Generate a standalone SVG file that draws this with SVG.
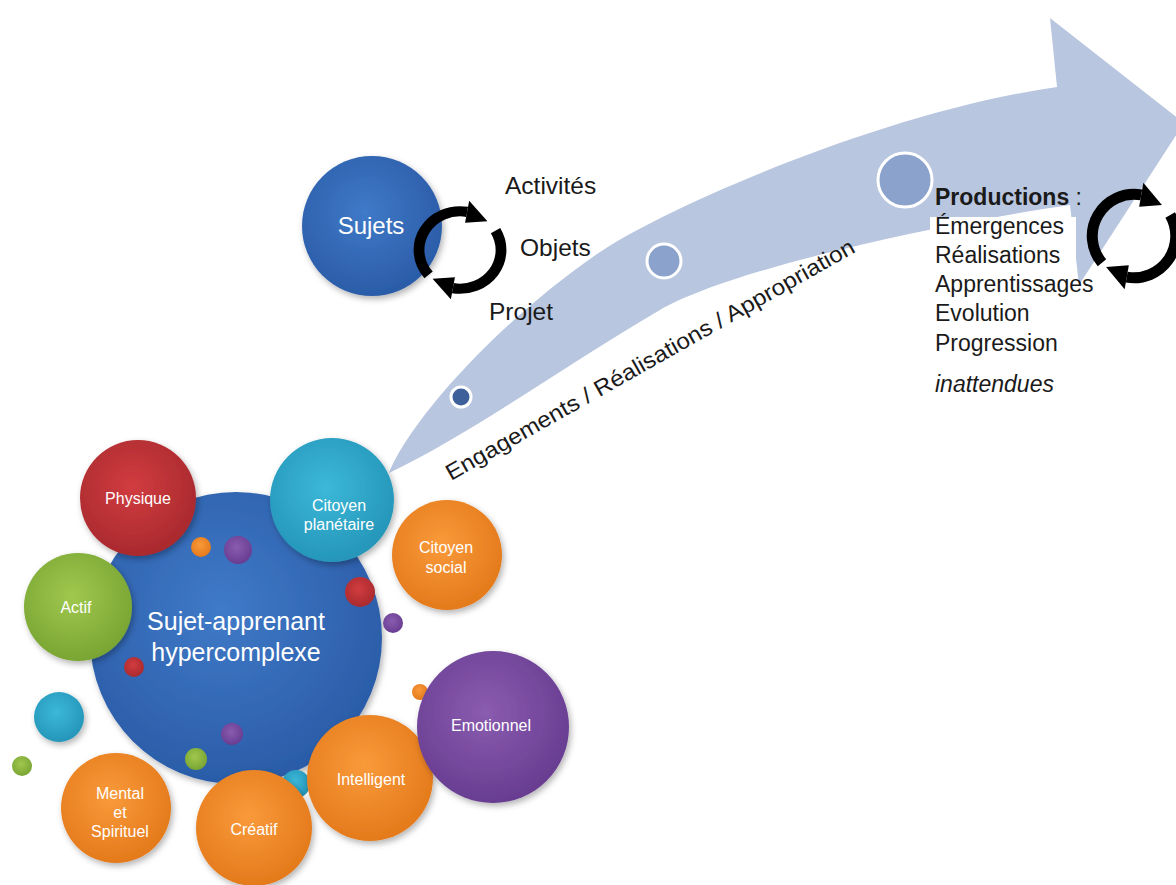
<svg xmlns="http://www.w3.org/2000/svg" width="1176" height="885" viewBox="0 0 1176 885">
<style>
.lbl{font-family:"Liberation Sans",Arial,sans-serif;fill:#fff;text-anchor:middle;font-size:16px}
.big{font-family:"Liberation Sans",Arial,sans-serif;fill:#fff;text-anchor:middle;font-size:25px}
.txt{font-family:"Liberation Sans",Arial,sans-serif;fill:#1a1a1a;font-size:23px}
.dot{stroke:#fff;stroke-width:3}
</style>
<defs>
<filter id="sh" x="-20%" y="-20%" width="150%" height="150%">
<feDropShadow dx="2" dy="3" stdDeviation="3" flood-color="#000" flood-opacity="0.3"/>
</filter>
<radialGradient id="gBlue" cx="45%" cy="40%" r="60%"><stop offset="0" stop-color="#3f7ac8"/><stop offset="1" stop-color="#2b5ca8"/></radialGradient>
<radialGradient id="gRed" cx="45%" cy="40%" r="60%"><stop offset="0" stop-color="#d13c40"/><stop offset="1" stop-color="#a92a2e"/></radialGradient>
<radialGradient id="gTeal" cx="45%" cy="40%" r="60%"><stop offset="0" stop-color="#3cb8d8"/><stop offset="1" stop-color="#2596b9"/></radialGradient>
<radialGradient id="gOrange" cx="45%" cy="40%" r="60%"><stop offset="0" stop-color="#f99a3a"/><stop offset="1" stop-color="#e47a1c"/></radialGradient>
<radialGradient id="gGreen" cx="45%" cy="40%" r="60%"><stop offset="0" stop-color="#a0c84e"/><stop offset="1" stop-color="#79a533"/></radialGradient>
<radialGradient id="gPurple" cx="45%" cy="40%" r="60%"><stop offset="0" stop-color="#8a5cb0"/><stop offset="1" stop-color="#683d91"/></radialGradient>
<g id="cycle">
<path d="M -29.1 24.4 A 38 38 0 0 1 6.6 -37.4" fill="none" stroke="#000" stroke-width="10"/>
<polygon points="4.7,-26.6 8.5,-48.3 25.4,-28.2" fill="#000"/>
<path d="M 32.9 -19 A 38 38 0 0 1 -6.6 37.4" fill="none" stroke="#000" stroke-width="10"/>
<polygon points="-4.7,26.6 -8.5,48.3 -25.4,28.2" fill="#000"/>
</g>
</defs>
<rect width="1176" height="885" fill="#fff"/>

<g id="connectors">
<path id="big-arrow" d="M 389 473 C 410 420, 500 320, 600 252 C 660 211, 880 112, 1057 87 L 1050 18 L 1184 123 L 1079 285 L 1070 205 C 900 230, 720 275, 660 310 C 570 362, 470 435, 389 473 Z" fill="#b9c6df"/>
<circle class="dot" cx="461" cy="397" r="10" fill="#3d609a"/>
<circle class="dot" cx="664" cy="261" r="17" fill="#8aa2cc"/>
<circle class="dot" cx="905" cy="180" r="27" fill="#8aa2cc"/>
<text class="txt" style="font-size:22.5px" textLength="466" lengthAdjust="spacingAndGlyphs" transform="translate(451 481) rotate(-29.5)">Engagements / Réalisations / Appropriation</text>
</g>

<g id="sujets">
<circle cx="372" cy="226" r="70" fill="url(#gBlue)" filter="url(#sh)"/>
<text class="big" x="371" y="234" style="font-size:24px">Sujets</text>
</g>
<g id="cycle-left">
<use href="#cycle" transform="translate(460 250) scale(1.08 1.02)"/>
<text class="txt" x="505" y="194" style="font-size:24.5px">Activités</text>
<text class="txt" x="520" y="256" style="font-size:24.5px">Objets</text>
<text class="txt" x="489" y="320" style="font-size:24.5px">Projet</text>
</g>

<g id="productions">
<rect x="930" y="217" width="146" height="185" fill="#fff"/>
<text class="txt" x="935" y="205"><tspan font-weight="bold">Productions</tspan> :</text>
<text class="txt" x="935" y="234">Émergences</text>
<text class="txt" x="935" y="263">Réalisations</text>
<text class="txt" x="935" y="292">Apprentissages</text>
<text class="txt" x="935" y="321">Evolution</text>
<text class="txt" x="935" y="351">Progression</text>
<text class="txt" x="935" y="392" font-style="italic">inattendues</text>
</g>
<g id="cycle-right">
<use href="#cycle" transform="translate(1134 236) scale(1.1)"/>
</g>

<g id="bubbles">
<circle cx="420" cy="692" r="8" fill="url(#gOrange)"/>
<circle cx="265" cy="510" r="14" fill="url(#gRed)"/>
<g id="citoyen-social">
<circle cx="447" cy="555" r="55" fill="url(#gOrange)" filter="url(#sh)"/>
<text class="lbl" x="446" y="553">Citoyen</text>
<text class="lbl" x="446" y="573">social</text>
</g>
<g id="sujet-apprenant">
<circle cx="236" cy="638" r="146" fill="url(#gBlue)" filter="url(#sh)"/>
<text class="big" x="236" y="630">Sujet-apprenant</text>
<text class="big" x="236" y="661">hypercomplexe</text>
</g>
<circle cx="360" cy="592" r="15" fill="url(#gRed)"/>
<circle cx="201" cy="547" r="10" fill="url(#gOrange)"/>
<circle cx="238" cy="550" r="14" fill="url(#gPurple)"/>
<circle cx="393" cy="623" r="10" fill="url(#gPurple)"/>
<circle cx="134" cy="667" r="10" fill="url(#gRed)"/>
<circle cx="232" cy="734" r="11" fill="url(#gPurple)"/>
<circle cx="196" cy="759" r="11" fill="url(#gGreen)"/>
<circle cx="59" cy="717" r="25" fill="url(#gTeal)" filter="url(#sh)"/>
<circle cx="22" cy="766" r="10" fill="url(#gGreen)"/>
<circle cx="296" cy="784" r="14" fill="url(#gTeal)"/>
<g id="physique">
<circle cx="138" cy="498" r="58" fill="url(#gRed)" filter="url(#sh)"/>
<text class="lbl" x="138" y="504">Physique</text>
</g>
<g id="actif">
<circle cx="78" cy="607" r="54" fill="url(#gGreen)" filter="url(#sh)"/>
<text class="lbl" x="76" y="613">Actif</text>
</g>
<g id="citoyen-planetaire">
<circle cx="332" cy="500" r="62" fill="url(#gTeal)" filter="url(#sh)"/>
<text class="lbl" x="339" y="511">Citoyen</text>
<text class="lbl" x="339" y="530">planétaire</text>
</g>
<g id="mental">
<circle cx="116" cy="808" r="55" fill="url(#gOrange)" filter="url(#sh)"/>
<text class="lbl" x="120" y="799">Mental</text>
<text class="lbl" x="120" y="818">et</text>
<text class="lbl" x="120" y="837">Spirituel</text>
</g>
<g id="creatif">
<circle cx="254" cy="828" r="58" fill="url(#gOrange)" filter="url(#sh)"/>
<text class="lbl" x="254" y="835">Créatif</text>
</g>
<g id="intelligent">
<circle cx="370" cy="778" r="63" fill="url(#gOrange)" filter="url(#sh)"/>
<text class="lbl" x="371" y="785">Intelligent</text>
</g>
<g id="emotionnel">
<circle cx="493" cy="727" r="76" fill="url(#gPurple)" filter="url(#sh)"/>
<text class="lbl" x="491" y="731">Emotionnel</text>
</g>
</g>
</svg>
